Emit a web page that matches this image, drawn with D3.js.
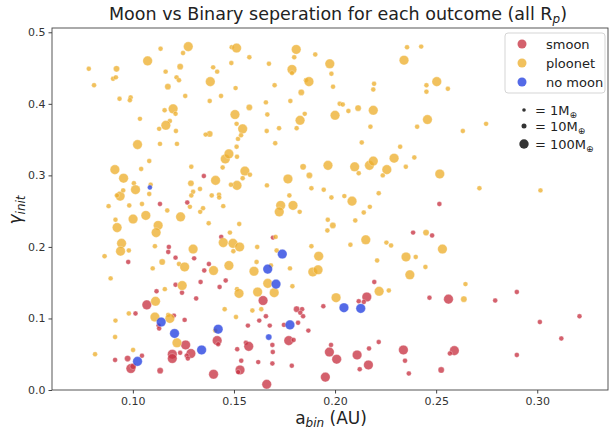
<!DOCTYPE html>
<html>
<head>
<meta charset="utf-8">
<script src="https://cdn.jsdelivr.net/npm/d3@7"></script>
<style>
  body { margin: 0; background: #fff; }
  svg { font-family: "DejaVu Sans", sans-serif; }
</style>
</head>
<body>
<svg id="chart" width="610" height="430"></svg>
<script>
// [a_bin (AU), gamma_init, planet mass (M_earth)]
const smoon = [
  [0.1134,0.260,9],[0.1351,0.299,9],[0.1269,0.262,9],[0.2516,0.260,9],[0.0977,0.179,9],
  [0.1178,0.200,9],[0.1175,0.193,9],[0.1211,0.185,9],[0.1303,0.184,9],[0.1376,0.176,9],
  [0.1353,0.167,9],[0.1437,0.214,9],[0.1335,0.151,9],[0.1459,0.153,9],[0.1211,0.147,9],
  [0.1243,0.136,9],[0.1429,0.144,9],[0.1117,0.138,9],[0.1313,0.128,9],[0.1069,0.119,110],
  [0.1013,0.107,9],[0.1203,0.104,9],[0.1256,0.098,9],[0.1127,0.090,9],[0.1130,0.086,9],
  [0.1417,0.069,110],[0.1422,0.064,9],[0.1261,0.063,110],[0.1287,0.051,110],[0.1266,0.048,9],
  [0.1272,0.044,9],[0.1234,0.052,9],[0.1195,0.050,110],[0.1195,0.044,110],[0.1516,0.057,9],
  [0.0912,0.042,9],[0.0974,0.044,19],[0.1045,0.048,9],[0.0990,0.030,110],[0.1001,0.033,19],
  [0.1135,0.027,19],[0.1399,0.022,110],[0.1530,0.028,110],[0.1521,0.025,9],[0.1693,0.213,9],
  [0.2386,0.220,9],[0.2194,0.151,9],[0.2157,0.130,110],[0.2117,0.124,9],[0.2142,0.123,9],
  [0.1644,0.125,110],[0.1810,0.113,19],[0.1837,0.113,9],[0.1828,0.108,9],[0.1842,0.103,9],
  [0.1942,0.117,9],[0.1658,0.103,9],[0.1625,0.097,9],[0.1569,0.090,9],[0.1677,0.090,9],
  [0.1747,0.091,9],[0.1817,0.094,9],[0.1868,0.083,9],[0.1771,0.069,110],[0.1795,0.070,9],
  [0.1559,0.066,9],[0.1573,0.061,110],[0.1690,0.063,9],[0.1980,0.063,9],[0.2216,0.067,9],
  [0.2168,0.058,9],[0.2338,0.056,110],[0.1692,0.053,9],[0.1972,0.053,110],[0.2109,0.049,110],
  [0.2008,0.043,110],[0.1536,0.041,9],[0.1620,0.039,9],[0.1690,0.037,9],[0.1786,0.034,9],
  [0.2165,0.035,110],[0.2346,0.041,9],[0.2122,0.029,9],[0.2365,0.023,9],[0.1952,0.018,110],
  [0.1662,0.008,110],[0.2480,0.216,9],[0.2899,0.137,9],[0.2467,0.129,9],[0.2561,0.127,110],
  [0.2792,0.125,9],[0.3209,0.103,9],[0.3013,0.095,9],[0.3119,0.072,9],[0.2590,0.055,110],
  [0.2568,0.051,9],[0.2899,0.049,9],[0.2525,0.028,19]
];

const ploonet = [
  [0.0782,0.449,9],[0.0808,0.426,9],[0.0919,0.449,19],[0.0902,0.435,9],[0.0916,0.437,9],
  [0.0934,0.407,9],[0.0989,0.409,9],[0.0985,0.405,9],[0.1035,0.379,9],[0.1073,0.460,110],
  [0.1137,0.477,9],[0.1274,0.480,110],[0.1248,0.471,9],[0.1162,0.445,9],[0.1234,0.452,19],
  [0.1216,0.437,9],[0.1228,0.433,9],[0.1173,0.424,19],[0.1259,0.411,9],[0.1199,0.393,110],
  [0.1157,0.391,9],[0.1211,0.386,9],[0.1183,0.376,9],[0.1163,0.370,110],[0.1130,0.365,9],
  [0.1213,0.362,9],[0.1023,0.343,110],[0.1134,0.344,9],[0.1218,0.344,9],[0.1081,0.320,9],
  [0.1041,0.309,9],[0.0911,0.308,110],[0.0954,0.296,110],[0.1005,0.289,9],[0.1013,0.280,110],
  [0.0937,0.271,110],[0.0952,0.279,9],[0.0921,0.272,9],[0.1081,0.274,9],[0.1088,0.287,9],
  [0.0880,0.257,9],[0.0982,0.258,9],[0.1045,0.260,9],[0.1289,0.312,9],[0.1287,0.289,19],
  [0.1332,0.281,9],[0.1298,0.277,9],[0.1289,0.272,9],[0.1409,0.293,110],[0.1390,0.272,9],
  [0.1426,0.273,9],[0.1427,0.269,9],[0.1282,0.256,9],[0.1347,0.254,9],[0.1444,0.311,9],
  [0.1457,0.323,110],[0.1475,0.330,110],[0.1515,0.326,9],[0.1383,0.431,110],[0.1380,0.404,9],
  [0.1436,0.411,9],[0.1397,0.451,9],[0.1417,0.445,9],[0.1487,0.457,9],[0.1508,0.422,9],
  [0.1380,0.358,19],[0.1360,0.357,9],[0.1505,0.385,110],[0.1513,0.372,9],[0.1520,0.351,9],
  [0.1513,0.340,9],[0.1515,0.286,110],[0.1485,0.287,9],[0.1489,0.479,9],[0.1513,0.478,110],
  [0.1576,0.465,9],[0.1673,0.456,9],[0.1808,0.476,110],[0.1798,0.465,9],[0.1902,0.469,9],
  [0.1787,0.448,110],[0.1787,0.443,9],[0.1701,0.426,9],[0.1856,0.433,9],[0.1871,0.431,110],
  [0.1833,0.416,19],[0.1974,0.456,110],[0.1982,0.442,9],[0.1990,0.424,9],[0.1779,0.404,9],
  [0.1658,0.402,9],[0.1576,0.395,19],[0.1665,0.385,9],[0.1543,0.365,110],[0.1535,0.356,9],
  [0.1662,0.362,9],[0.1723,0.366,9],[0.1704,0.345,9],[0.1827,0.377,110],[0.1850,0.386,9],
  [0.1810,0.366,9],[0.2000,0.384,110],[0.2023,0.400,9],[0.2038,0.399,9],[0.2066,0.390,9],
  [0.2114,0.394,19],[0.2189,0.391,110],[0.2175,0.368,9],[0.2189,0.420,9],[0.2193,0.428,9],
  [0.2356,0.479,9],[0.2341,0.461,110],[0.2406,0.368,9],[0.2132,0.346,9],[0.2322,0.340,9],
  [0.1554,0.306,110],[0.1543,0.296,9],[0.1579,0.301,9],[0.1663,0.286,9],[0.1767,0.295,110],
  [0.1842,0.312,19],[0.1873,0.300,19],[0.1965,0.314,110],[0.2097,0.312,110],[0.2117,0.303,9],
  [0.2170,0.314,110],[0.2189,0.320,110],[0.2256,0.308,110],[0.2236,0.300,9],[0.2292,0.324,110],
  [0.2350,0.312,9],[0.2392,0.325,9],[0.1883,0.282,9],[0.1944,0.280,9],[0.1982,0.269,9],
  [0.2046,0.271,9],[0.1774,0.272,9],[0.2084,0.264,110],[0.2216,0.275,9],[0.2172,0.256,9],
  [0.1731,0.258,110],[0.1792,0.258,110],[0.2426,0.480,9],[0.2503,0.431,110],[0.2452,0.426,9],
  [0.2452,0.417,9],[0.2558,0.421,9],[0.2457,0.378,110],[0.2632,0.362,9],[0.2747,0.372,9],
  [0.2518,0.302,110],[0.2714,0.282,9],[0.3016,0.279,9],[0.1170,0.251,9],[0.1236,0.242,110],
  [0.1064,0.244,110],[0.1001,0.239,110],[0.0914,0.238,9],[0.0922,0.227,110],[0.1125,0.230,110],
  [0.1115,0.220,110],[0.1333,0.249,9],[0.1447,0.257,9],[0.1375,0.233,9],[0.1526,0.232,9],
  [0.0944,0.205,110],[0.0939,0.194,110],[0.0980,0.195,9],[0.0860,0.187,9],[0.1109,0.201,9],
  [0.1298,0.197,110],[0.1145,0.179,19],[0.1098,0.170,9],[0.1228,0.176,9],[0.1256,0.172,110],
  [0.1399,0.167,110],[0.1475,0.174,110],[0.1447,0.206,110],[0.1480,0.220,9],[0.1495,0.205,110],
  [0.1497,0.194,9],[0.1528,0.200,110],[0.0890,0.156,9],[0.1244,0.146,110],[0.1158,0.141,9],
  [0.1515,0.141,9],[0.1525,0.135,110],[0.1112,0.124,110],[0.0980,0.107,9],[0.0914,0.097,9],
  [0.1109,0.102,110],[0.1175,0.105,9],[0.1183,0.100,110],[0.1454,0.113,9],[0.1510,0.102,9],
  [0.1407,0.083,9],[0.0912,0.074,9],[0.1218,0.066,110],[0.1001,0.056,9],[0.0813,0.050,9],
  [0.1724,0.249,110],[0.1825,0.249,9],[0.2142,0.248,9],[0.1964,0.238,9],[0.1989,0.230,19],
  [0.1962,0.223,9],[0.2100,0.237,9],[0.1706,0.214,9],[0.1615,0.200,9],[0.1883,0.201,9],
  [0.2076,0.203,9],[0.2152,0.210,110],[0.2254,0.206,9],[0.2277,0.202,9],[0.1711,0.195,9],
  [0.1919,0.187,110],[0.2208,0.181,9],[0.2351,0.186,110],[0.2399,0.186,9],[0.1612,0.179,9],
  [0.1683,0.174,9],[0.1599,0.166,110],[0.1777,0.170,9],[0.1890,0.165,110],[0.1916,0.168,110],
  [0.2370,0.161,110],[0.1667,0.149,110],[0.1789,0.145,9],[0.1617,0.137,110],[0.1699,0.136,110],
  [0.2218,0.138,110],[0.2266,0.139,9],[0.2005,0.129,110],[0.1635,0.113,9],[0.1591,0.111,9],
  [0.2450,0.220,19],[0.2531,0.197,110],[0.2447,0.172,9],[0.2645,0.148,9],[0.2637,0.127,19]
];

const noMoon = [
  [0.1084,0.283,9],[0.1140,0.095,110],[0.1206,0.079,110],[0.1422,0.085,110],[0.1340,0.056,110],
  [0.1023,0.040,110],[0.1739,0.190,110],[0.1667,0.169,110],[0.1708,0.148,110],[0.2044,0.115,110],
  [0.2127,0.114,110],[0.1777,0.091,110],[0.1672,0.074,19]
];

const outcomes = ["smoon", "ploonet", "no moon"];
const outcomeColors = ["#c83444", "#edb030", "#2440e0"];
const legendMasses = [1, 10, 100];
const xTicks = [0.10, 0.15, 0.20, 0.25, 0.30];
const yTicks = [0.0, 0.1, 0.2, 0.3, 0.4, 0.5];

const margin = {top: 28, right: 2, bottom: 40, left: 52},
    width = 610 - margin.left - margin.right,
    height = 430 - margin.top - margin.bottom;

const svg = d3.select("#chart");
const g = svg.append("g")
    .attr("transform", "translate(" + margin.left + "," + margin.top + ")");

const xScale = d3.scaleLinear().domain([0.06, 0.335]).range([0, width]);
const yScale = d3.scaleLinear().domain([0, 0.506]).range([height, 0]);
const rScale = d3.scaleLog().domain(legendMasses).range([1.8, 2.5, 4.7]);
const color = d3.scaleOrdinal().domain(outcomes).range(outcomeColors);

// points, drawn in the same order as the legend
[smoon, ploonet, noMoon].forEach(function (rows, i) {
    g.append("g")
        .selectAll("circle")
        .data(rows)
        .enter()
        .append("circle")
        .attr("cx", function (d) { return xScale(d[0]); })
        .attr("cy", function (d) { return yScale(d[1]); })
        .attr("r", function (d) { return rScale(d[2]); })
        .attr("fill", color(outcomes[i]))
        .attr("fill-opacity", 0.78)
        .attr("stroke", "#fff")
        .attr("stroke-opacity", 0.6)
        .attr("stroke-width", 0.5);
});

// frame
g.append("rect")
    .attr("width", width)
    .attr("height", height)
    .attr("fill", "none")
    .attr("stroke", "#444")
    .attr("stroke-width", 0.9);

g.append("g")
    .attr("class", "x-axis")
    .attr("transform", "translate(0," + height + ")")
    .call(d3.axisBottom(xScale).tickValues(xTicks).tickFormat(d3.format(".2f"))
        .tickSize(3.5).tickPadding(4));

g.append("g")
    .attr("class", "y-axis")
    .call(d3.axisLeft(yScale).tickValues(yTicks).tickFormat(d3.format(".1f"))
        .tickSize(3.5).tickPadding(3));

g.selectAll(".domain").remove();
g.selectAll(".tick line").attr("stroke", "#444");
g.selectAll(".tick text")
    .attr("fill", "#333")
    .style("font-size", "11px")
    .style("font-family", "DejaVu Sans");

// title
const title = svg.append("text")
    .attr("x", 338)
    .attr("y", 20)
    .attr("text-anchor", "middle")
    .style("font-size", "17.5px")
    .attr("fill", "#222");
title.append("tspan").text("Moon vs Binary seperation for each outcome (all R");
title.append("tspan").attr("dy", 3).style("font-size", "12px").style("font-style", "italic").text("p");
title.append("tspan").attr("dy", -3).text(")");

// x label
const xl = svg.append("text")
    .attr("x", 331)
    .attr("y", 424)
    .attr("text-anchor", "middle")
    .style("font-size", "17px")
    .attr("fill", "#222");
xl.append("tspan").text("a");
xl.append("tspan").attr("dy", 3).style("font-size", "12px").style("font-style", "italic").text("bin");
xl.append("tspan").attr("dy", -3).text(" (AU)");

// y label
const yl = svg.append("text")
    .attr("transform", "translate(21,210) rotate(-90)")
    .attr("text-anchor", "middle")
    .style("font-size", "17px")
    .attr("fill", "#222");
yl.append("tspan").style("font-style", "italic").text("γ");
yl.append("tspan").attr("dy", 4).style("font-size", "12px").style("font-style", "italic").text("init");

// outcome legend
const legend = svg.append("g").attr("transform", "translate(505,33)");
legend.append("rect")
    .attr("width", 100)
    .attr("height", 60)
    .attr("rx", 3)
    .attr("fill", "#fff")
    .attr("fill-opacity", 0.8)
    .attr("stroke", "#d5d5d5");

outcomes.forEach(function (o, i) {
    legend.append("circle")
        .attr("cx", 17)
        .attr("cy", 11 + i * 19)
        .attr("r", 4.5)
        .attr("fill", color(o))
        .attr("fill-opacity", 0.78);
    legend.append("text")
        .attr("x", 41)
        .attr("y", 11 + i * 19)
        .attr("dy", "0.35em")
        .style("font-size", "13px")
        .attr("fill", "#222")
        .text(o);
});

// mass legend
const sizeLegend = svg.append("g").attr("transform", "translate(524,110)");
legendMasses.forEach(function (m, i) {
    const yy = [0, 16, 34][i];
    sizeLegend.append("circle")
        .attr("cx", 0)
        .attr("cy", yy)
        .attr("r", rScale(m))
        .attr("fill", "#333");
    const t = sizeLegend.append("text")
        .attr("x", 11)
        .attr("y", yy)
        .attr("dy", "0.35em")
        .style("font-size", "13px")
        .attr("fill", "#222");
    t.append("tspan").text("= " + m + "M");
    t.append("tspan").attr("dy", 3).style("font-size", "9px").text("⊕");
});
</script>
</body>
</html>
